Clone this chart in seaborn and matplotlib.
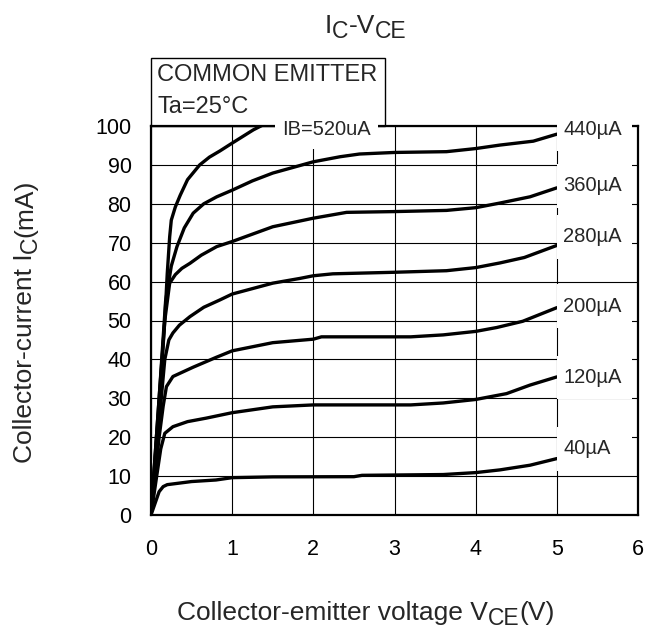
import matplotlib
matplotlib.use("Agg")
import matplotlib.pyplot as plt
import pandas as pd
import seaborn as sns
from matplotlib.patches import Rectangle

# Ic-Vce curves, one per base current
v_40 = [0, 0.05, 0.1, 0.15, 0.2, 0.5, 0.8, 1.0, 1.5, 2.5, 2.6, 3.6, 4.0, 4.3, 4.67, 5.0]
i_40 = [0, 3.0, 6.0, 7.3, 7.8, 8.6, 9.0, 9.6, 9.8, 9.85, 10.2, 10.4, 10.9, 11.6, 12.8, 14.5]

v_120 = [0, 0.07, 0.12, 0.17, 0.27, 0.45, 0.68, 1.0, 1.5, 2.0, 3.2, 3.6, 4.0, 4.38, 4.67, 5.0]
i_120 = [0, 10.0, 17.0, 21.0, 22.7, 24.0, 24.9, 26.3, 27.8, 28.3, 28.3, 28.8, 29.7, 31.2, 33.4, 35.5]

v_200 = [0, 0.1, 0.15, 0.19, 0.27, 0.52, 0.8, 1.0, 1.5, 2.0, 2.1, 3.2, 3.6, 4.0, 4.26, 4.58, 5.0]
i_200 = [0, 20.0, 28.0, 33.0, 35.6, 38.0, 40.5, 42.2, 44.3, 45.2, 45.8, 45.8, 46.3, 47.2, 48.2, 49.8, 53.3]

v_280 = [0, 0.1, 0.17, 0.22, 0.27, 0.35, 0.48, 0.65, 0.85, 1.0, 1.5, 1.83, 2.0, 2.24,
         3.0, 3.64, 4.0, 4.3, 4.6, 5.0]
i_280 = [0, 24.0, 40.0, 45.0, 46.8, 48.8, 51.0, 53.4, 55.3, 56.8, 59.6, 60.8, 61.5, 62.0,
         62.4, 62.8, 63.6, 64.8, 66.2, 69.3]

v_360 = [0, 0.1, 0.17, 0.23, 0.3, 0.38, 0.48, 0.62, 0.81, 1.0, 1.5, 2.0, 2.41, 3.0,
         3.64, 4.0, 4.3, 4.67, 5.0]
i_360 = [0, 28.0, 50.0, 59.6, 61.8, 63.4, 64.7, 66.8, 69.0, 70.3, 74.1, 76.3, 77.8, 78.0,
         78.3, 79.0, 80.2, 81.8, 84.1]

v_440 = [0, 0.1, 0.18, 0.25, 0.32, 0.41, 0.52, 0.65, 0.81, 1.0, 1.25, 1.5, 2.0, 2.33,
         2.57, 3.0, 3.64, 4.0, 4.3, 4.71, 5.0]
i_440 = [0, 30.0, 55.0, 64.0, 69.0, 73.8, 77.6, 80.0, 81.8, 83.5, 85.9, 87.9, 90.8, 92.1,
         92.8, 93.2, 93.4, 94.2, 95.1, 96.1, 97.9]

v_520 = [0, 0.1, 0.17, 0.2, 0.23, 0.25, 0.3, 0.36, 0.45, 0.6, 0.72, 0.85, 1.0, 1.26, 1.4]
i_520 = [0, 30.0, 50.0, 62.0, 71.5, 75.8, 79.2, 82.2, 86.2, 90.0, 92.0, 93.6, 95.6, 99.0, 100.5]

curve_names = ["40", "120", "200", "280", "360", "440", "520"]
curve_v = [v_40, v_120, v_200, v_280, v_360, v_440, v_520]
curve_i = [i_40, i_120, i_200, i_280, i_360, i_440, i_520]

# labels placed at the right end of the curves
label_texts = ["40µA", "120µA", "200µA", "280µA", "360µA", "440µA"]
label_y = [17.0, 35.3, 53.7, 71.5, 84.6, 99.2]

x_ticks = [0, 1, 2, 3, 4, 5, 6]
y_ticks = [0, 10, 20, 30, 40, 50, 60, 70, 80, 90, 100]

frames = [pd.DataFrame({"V": v, "I": i, "curve": n})
          for n, v, i in zip(curve_names, curve_v, curve_i)]
df = pd.concat(frames, ignore_index=True)

sns.set_theme(style="white")
plt.rcParams["font.family"] = ["Liberation Sans", "DejaVu Sans"]

fig = plt.figure(figsize=(6.47, 6.34), dpi=100)
ax = fig.add_axes([151 / 647, 1 - 515 / 634, 487 / 647, 389 / 634])

sns.lineplot(data=df, x="V", y="I", units="curve", estimator=None, sort=False,
             color="black", linewidth=2.4, ax=ax, zorder=2)

ax.set_xlim(0, 6)
ax.set_ylim(0, 100)
ax.set_xticks(x_ticks)
ax.set_yticks(y_ticks)
ax.set_xlabel("")
ax.set_ylabel("")
ax.grid(True, color="black", linewidth=0.8)
ax.set_axisbelow(True)
ax.tick_params(length=0, labelsize=15.5, colors="black")
ax.tick_params(axis="x", pad=17)
ax.tick_params(axis="y", pad=14)
for s in ax.spines.values():
    s.set_color("black")
    s.set_linewidth(1.6)

# white patches behind the curve labels that break the grid
for txt, y in zip(label_texts, label_y):
    ax.add_patch(Rectangle((5.0, y - 5.6), 0.92, 11.2, facecolor="white",
                           edgecolor="none", clip_on=False, zorder=3))
    ax.text(5.08, y, txt, ha="left", va="center", fontsize=14.5, zorder=4)

# condition box
ax.add_patch(Rectangle((0, 100), 2.88, 17.5, facecolor="none", edgecolor="black",
                       linewidth=1.0, clip_on=False, zorder=2.6))
ax.text(0.08, 113.0, "COMMON EMITTER", ha="left", va="center", fontsize=17)
ax.text(0.08, 104.9, "Ta=25°C", ha="left", va="center", fontsize=17)

ax.add_patch(Rectangle((1.53, 94), 1.27, 12, facecolor="white", edgecolor="none",
                       clip_on=False, zorder=3))
ax.text(1.61, 99.2, "IB=520uA", ha="left", va="center", fontsize=14.5, zorder=4)


def chain_text(x, y, pieces, vertical=False):
    """Draw text pieces one after the other; pieces = (text, size, drop in points)."""
    first, size, drop = pieces[0]
    if vertical:
        prev = fig.text(x, y, first, fontsize=size, rotation=90, ha="right", va="bottom")
    else:
        prev = fig.text(x, y, first, fontsize=size, ha="left", va="bottom")
    last_drop = drop
    for text, size, drop in pieces[1:]:
        d = drop - last_drop
        if vertical:
            prev = ax.annotate(text, xy=(1, 1), xycoords=prev, xytext=(d, 0),
                               textcoords="offset points", ha="right", va="bottom",
                               rotation=90, fontsize=size, annotation_clip=False)
        else:
            prev = ax.annotate(text, xy=(1, 0), xycoords=prev, xytext=(0, -d),
                               textcoords="offset points", ha="left", va="bottom",
                               fontsize=size, annotation_clip=False)
        last_drop = drop


chain_text(325 / 647, 1 - 38 / 634,
           [("I", 19, 0), ("C", 16.5, 3.5), ("-V", 19, 0), ("CE", 16.5, 3.5)])
chain_text(177 / 647, 1 - 625 / 634,
           [("Collector-emitter voltage V", 19, 0), ("CE", 16.5, 3.5), ("(V)", 19, 0)])
chain_text(37 / 647, 1 - 463 / 634,
           [("Collector-current I", 19, 0), ("C", 16.5, 3.5), ("(mA)", 19, 0)],
           vertical=True)

fig.savefig("out.png", dpi=100, facecolor="white")
